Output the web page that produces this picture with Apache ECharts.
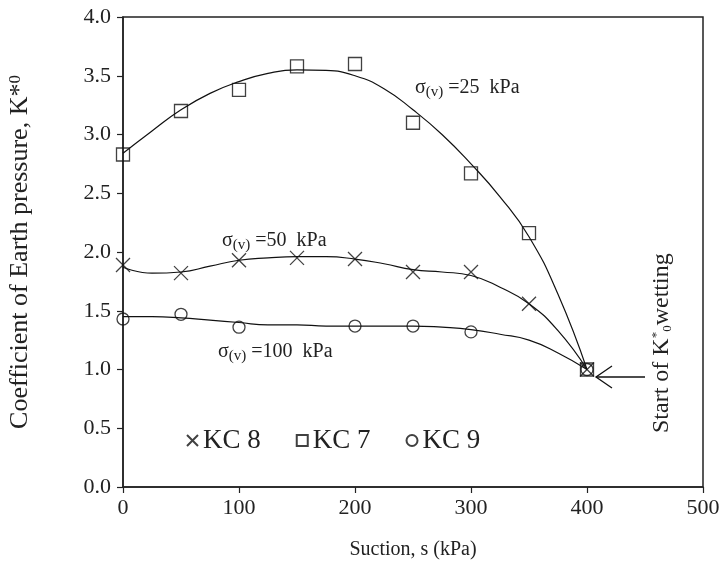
<!DOCTYPE html>
<html>
<head>
<meta charset="utf-8">
<script src="https://cdn.jsdelivr.net/npm/echarts@6/dist/echarts.min.js"></script>
<style>
html,body{margin:0;padding:0;background:#fff;}
#chart{width:727px;height:572px;}
</style>
</head>
<body>
<div id="chart"></div>
<script>
// measured points
var suction = [0, 50, 100, 150, 200, 250, 300, 350, 400];
var kc7 = [2.83, 3.20, 3.38, 3.58, 3.60, 3.10, 2.67, 2.16, 1.00];
var kc8 = [1.89, 1.82, 1.93, 1.95, 1.94, 1.83, 1.83, 1.56, 1.00];
var kc9s = [0, 50, 100, 200, 250, 300, 400];
var kc9 = [1.43, 1.47, 1.36, 1.37, 1.37, 1.32, 1.00];

// trend lines
var trendS = [0, 25, 50, 75, 100, 125, 150, 175, 200, 225, 250, 275, 300, 325, 350, 375, 400];
var trend25 = [2.84, 3.03, 3.21, 3.35, 3.45, 3.52, 3.55, 3.545, 3.50, 3.39, 3.21, 3.00, 2.75, 2.47, 2.13, 1.64, 1.00];
var trend50 = [1.87, 1.82, 1.83, 1.88, 1.93, 1.95, 1.96, 1.96, 1.94, 1.90, 1.85, 1.83, 1.80, 1.70, 1.56, 1.33, 1.00];
var trend100 = [1.45, 1.45, 1.44, 1.42, 1.40, 1.38, 1.38, 1.37, 1.37, 1.37, 1.37, 1.36, 1.34, 1.30, 1.25, 1.14, 1.00];

var xTicks = [0, 100, 500];
var font = 'Liberation Serif';

function pairs(xs, ys){
	var out = [];
	for (var i = 0; i < xs.length; i++) out.push([xs[i], ys[i]]);
	return out;
}

function sigmaLabel(x, y, val){
	return { type: 'text', x: x, y: y, style: {
		text: '{s|σ}{sub|(v)}{t| =' + val + '  kPa}',
		verticalAlign: 'middle',
		rich: {
			s: { fontFamily: font, fontSize: 20, fill: '#222' },
			sub: { fontFamily: font, fontSize: 15, fill: '#222', verticalAlign: 'bottom', padding: [9, 0, 0, 0] },
			t: { fontFamily: font, fontSize: 20, fill: '#222' }
		} } };
}

var myChart = echarts.init(document.getElementById('chart'));

var markStyle = { color: 'transparent', borderColor: '#111', borderWidth: 1.3 };
var lineStyle = { color: '#111', width: 1.2 };

var option = {
	animation: false,
	backgroundColor: '#fff',
	grid: {
		left: 123, right: 24, top: 17, bottom: 85,
		outerBoundsMode: 'none', containLabel: false,
		show: true, borderColor: '#222', borderWidth: 1.5
	},
	legend: {
		left: 181, top: 422,
		itemGap: 35, itemWidth: 11, itemHeight: 11,
		textStyle: { fontFamily: font, fontSize: 27, color: '#222' },
		data: ['KC 8', 'KC 7', 'KC 9']
	},
	xAxis: {
		type: 'value', min: xTicks[0], max: xTicks[2], interval: xTicks[1],
		name: 'Suction, s (kPa)', nameLocation: 'middle', nameGap: 53,
		nameTextStyle: { fontFamily: font, fontSize: 20, color: '#222' },
		axisLine: { lineStyle: { color: '#222', width: 1.5 } },
		axisTick: { length: 6, lineStyle: { color: '#222', width: 1.2 } },
		axisLabel: { fontFamily: font, fontSize: 22, color: '#222', margin: 10 },
		splitLine: { show: false }
	},
	yAxis: {
		type: 'value', min: 0, max: 4, interval: 0.5,
		name: '{n|Coefficient of Earth pressure, K}{sup|*}{sub|0}', nameLocation: 'middle', nameGap: 90, nameRotate: 90,
		nameTextStyle: {
			fontFamily: font, fontSize: 26, color: '#222',
			rich: {
				n: { fontFamily: font, fontSize: 26, color: '#222' },
				sup: { fontFamily: font, fontSize: 26, color: '#222', verticalAlign: 'top' },
				sub: { fontFamily: font, fontSize: 17, color: '#222', verticalAlign: 'top' }
			}
		},
		axisLine: { show: true, lineStyle: { color: '#222', width: 1.5 } },
		axisTick: { show: true, length: 6, lineStyle: { color: '#222', width: 1.2 } },
		axisLabel: { fontFamily: font, fontSize: 22, color: '#222', margin: 12,
			formatter: function(v){ return v.toFixed(1); } },
		splitLine: { show: false }
	},
	graphic: [
		sigmaLabel(415, 88, '25'),
		sigmaLabel(222, 241, '50'),
		sigmaLabel(218, 352, '100'),
		{ type: 'polyline', shape: { points: [[645, 377], [596, 377]] },
			style: { stroke: '#111', lineWidth: 1.3, fill: null } },
		{ type: 'polyline', shape: { points: [[612, 366], [596, 377], [612, 388]] },
			style: { stroke: '#111', lineWidth: 1.3, fill: null } },
		{ type: 'text', x: 650, y: 433, rotation: Math.PI / 2, style: {
			text: '{n|Start of K}{sup|*}{sub|0}{n|wetting}',
			rich: {
				n: { fontFamily: font, fontSize: 24, fill: '#222' },
				sup: { fontFamily: font, fontSize: 13, fill: '#222', verticalAlign: 'top' },
				sub: { fontFamily: font, fontSize: 13, fill: '#222', verticalAlign: 'bottom' }
			} } }
	],
	series: [
		{ type: 'line', data: pairs(trendS, trend25), smooth: true, showSymbol: false, lineStyle: lineStyle, silent: true, z: 1 },
		{ type: 'line', data: pairs(trendS, trend50), smooth: true, showSymbol: false, lineStyle: lineStyle, silent: true, z: 1 },
		{ type: 'line', data: pairs(trendS, trend100), smooth: true, showSymbol: false, lineStyle: lineStyle, silent: true, z: 1 },
		{ name: 'KC 8', type: 'scatter', data: pairs(suction, kc8), symbol: 'path://M0,0L10,10M10,0L0,10', symbolSize: 14, itemStyle: markStyle, z: 3 },
		{ name: 'KC 7', type: 'scatter', data: pairs(suction, kc7), symbol: 'rect', symbolSize: 13, itemStyle: markStyle, z: 3 },
		{ name: 'KC 9', type: 'scatter', data: pairs(kc9s, kc9), symbol: 'circle', symbolSize: 12, itemStyle: markStyle, z: 3 }
	]
};

myChart.setOption(option);
</script>
</body>
</html>
